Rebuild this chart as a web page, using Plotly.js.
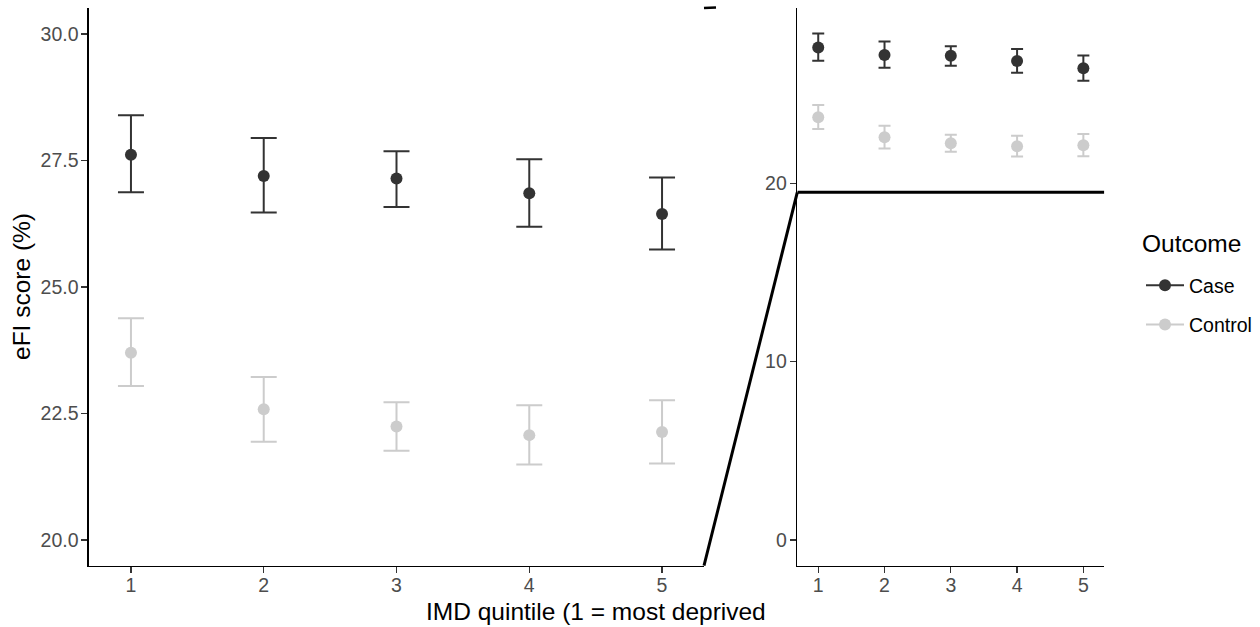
<!DOCTYPE html>
<html>
<head>
<meta charset="utf-8">
<script src="https://cdn.plot.ly/plotly-3.0.1.min.js"></script>
<style>
html,body{margin:0;padding:0;background:#fff;}
#chart{width:1260px;height:627px;}
</style>
</head>
<body>
<div id="chart"></div>
<script>
// ---------------- data ----------------
const quintiles = [1, 2, 3, 4, 5];
const xTickLabels = ['1', '2', '3', '4', '5'];
const caseMean  = [27.61, 27.19, 27.14, 26.85, 26.44];
const caseLower = [26.87, 26.47, 26.58, 26.19, 25.74];
const caseUpper = [28.39, 27.94, 27.68, 27.52, 27.16];
const controlMean  = [23.70, 22.58, 22.24, 22.07, 22.13];
const controlLower = [23.04, 21.94, 21.76, 21.49, 21.51];
const controlUpper = [24.38, 23.22, 22.72, 22.66, 22.76];
const seriesNames = ['Case', 'Control'];
const zoomTickVals = [20.0, 22.5, 25.0, 27.5, 30.0];
const zoomTickText = ['20.0', '22.5', '25.0', '27.5', '30.0'];
const fullTickVals = [0, 10, 20];
const zoomRange = [19.49, 30.51];
const fullRange = [-1.44, 29.82];
const xRange = [0.684, 5.316];

// ---------------- styling ----------------
const W = 1260, H = 627;
const colors = ['#333333', '#CCCCCC'];
const FONT = '"Liberation Sans", Arial, sans-serif';
const xDom1 = [89 / W, 704 / W];
const xDom2 = [797.3 / W, 1104.3 / W];
const yDom = [1 - 565.7 / H, 1 - 8 / H];

const series = [
  {mean: caseMean, lo: caseLower, hi: caseUpper},
  {mean: controlMean, lo: controlLower, hi: controlUpper}
];

const traces = [];
series.forEach((s, i) => {
  [['x', 'y', 13], ['x2', 'y2', 6]].forEach(([xa, ya, w]) => {
    traces.push({
      type: 'scatter', mode: 'markers',
      x: quintiles, y: s.mean,
      xaxis: xa, yaxis: ya,
      name: seriesNames[i], showlegend: false, cliponaxis: false,
      marker: {color: colors[i], size: 12},
      error_y: {
        type: 'data', symmetric: false,
        array: s.hi.map((v, k) => v - s.mean[k]),
        arrayminus: s.mean.map((v, k) => v - s.lo[k]),
        color: colors[i], thickness: 2, width: w
      },
      hoverinfo: 'x+y'
    });
  });
  // legend entry
  traces.push({
    type: 'scatter', mode: 'lines+markers',
    x: [null], y: [null], xaxis: 'x2', yaxis: 'y2',
    name: seriesNames[i], legendgroup: 'g' + i, showlegend: true,
    marker: {color: colors[i], size: 12},
    line: {color: colors[i], width: 2}
  });
});

function fracY(v, r) {
  return yDom[0] + (v - r[0]) / (r[1] - r[0]) * (yDom[1] - yDom[0]);
}

const axisCommon = {
  showline: true, linecolor: '#000000', linewidth: 1.6,
  ticks: 'outside', ticklen: 6, tickwidth: 1.4, tickcolor: '#333333',
  showgrid: false, zeroline: false,
  tickfont: {family: FONT, size: 19.5, color: '#4D4D4D'},
  fixedrange: true
};

// zoom indicator lines
const yLow2 = fracY(zoomRange[0], fullRange);
const shapes = [
  {type: 'line', xref: 'x2', yref: 'y2', x0: xRange[0], x1: xRange[1], y0: zoomRange[0], y1: zoomRange[0],
   line: {color: '#000', width: 3}},
  {type: 'line', xref: 'paper', yref: 'paper', x0: xDom1[1], y0: yDom[0], x1: xDom2[0], y1: yLow2,
   line: {color: '#000', width: 3}},
  {type: 'line', xref: 'paper', yref: 'paper', x0: xDom1[1], y0: yDom[1],
   x1: xDom1[1] + 12 / W, y1: yDom[1] + 0.6 / H,
   line: {color: '#000', width: 2.5}}
];

const layout = {
  width: W, height: H,
  margin: {l: 0, r: 0, t: 0, b: 0},
  paper_bgcolor: '#ffffff', plot_bgcolor: '#ffffff',
  font: {family: FONT, color: '#000'},
  xaxis: Object.assign({}, axisCommon, {domain: xDom1, range: xRange, tickvals: quintiles, ticktext: xTickLabels, anchor: 'y', ticklabelstandoff: -5}),
  yaxis: Object.assign({}, axisCommon, {domain: yDom, range: zoomRange, tickvals: zoomTickVals, ticktext: zoomTickText, anchor: 'x', ticklabelstandoff: -1}),
  xaxis2: Object.assign({}, axisCommon, {domain: xDom2, range: xRange, tickvals: quintiles, ticktext: xTickLabels, anchor: 'y2', ticklabelstandoff: -5}),
  yaxis2: Object.assign({}, axisCommon, {domain: yDom, range: fullRange, tickvals: fullTickVals, anchor: 'x2', ticklabelstandoff: -1}),
  shapes: shapes,
  annotations: [
    {text: 'IMD quintile (1 = most deprived', xref: 'paper', yref: 'paper',
     x: 596 / W, y: 1 - 611 / H, xanchor: 'center', yanchor: 'middle', showarrow: false,
     font: {family: FONT, size: 24.5, color: '#000'}},
    {text: 'eFI score (%)', xref: 'paper', yref: 'paper', textangle: -90,
     x: 21 / W, y: 1 - 287 / H, xanchor: 'center', yanchor: 'middle', showarrow: false,
     font: {family: FONT, size: 24.5, color: '#000'}},
    {text: 'Outcome', xref: 'paper', yref: 'paper',
     x: 1140 / W, y: 1 - 244 / H, xanchor: 'left', yanchor: 'middle', showarrow: false,
     font: {family: FONT, size: 24.5, color: '#000'}}
  ],
  showlegend: true,
  legend: {
    x: 1141 / W, xanchor: 'left', y: 1 - 266 / H, yanchor: 'top',
    font: {family: FONT, size: 19.5, color: '#000'},
    itemwidth: 38, tracegroupgap: 11, bgcolor: 'rgba(0,0,0,0)'
  }
};

Plotly.newPlot('chart', traces, layout, {displayModeBar: false, staticPlot: true});
</script>
</body>
</html>
